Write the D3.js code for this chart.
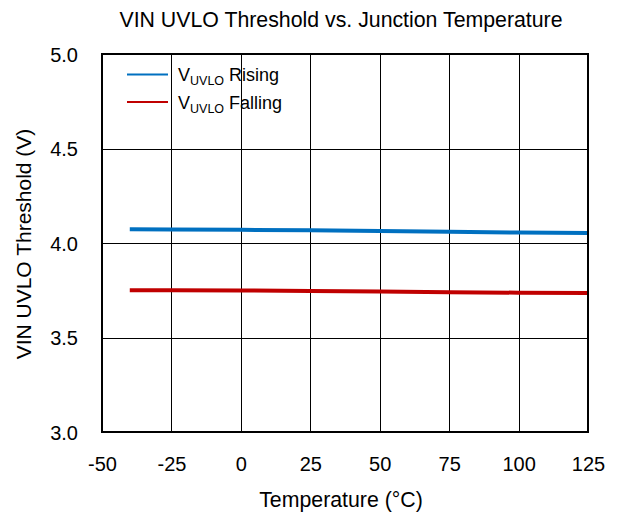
<!DOCTYPE html>
<html><head><meta charset="utf-8">
<script src="https://cdn.jsdelivr.net/npm/d3@7"></script>
<style>body{margin:0;background:#fff}svg{display:block}text{font-family:"Liberation Sans",Arial,sans-serif;fill:#000}</style>
</head><body><svg id="c" width="617" height="516"></svg>
<script>
const temps = [-40, -25, 0, 25, 50, 75, 100, 125];
const rising = [4.073, 4.072, 4.070, 4.067, 4.063, 4.059, 4.055, 4.053];
const falling = [3.750, 3.750, 3.749, 3.746, 3.743, 3.740, 3.737, 3.735];
const xTicks = [-50, -25, 0, 25, 50, 75, 100, 125];
const yTicks = [3.0, 3.5, 4.0, 4.5, 5.0];
const seriesNames = ["Rising", "Falling"];
const colors = ["#0070c0", "#c00000"];

const svg = d3.select("#c");
const L = 102, R = 588, T = 54, B = 432;
const x = d3.scaleLinear().domain([-50, 125]).range([L, R]);
const y = d3.scaleLinear().domain([3.0, 5.0]).range([B, T]);
const FF = '"Liberation Sans",Arial,sans-serif';

// grid
svg.append("g").selectAll("line").data(xTicks.slice(1, -1)).join("line")
  .attr("x1", d => Math.round(x(d)) + 0.5).attr("x2", d => Math.round(x(d)) + 0.5)
  .attr("y1", T).attr("y2", B).attr("stroke", "#000").attr("stroke-width", 1);
svg.append("g").selectAll("line").data(yTicks.slice(1, -1)).join("line")
  .attr("y1", d => Math.round(y(d)) + 0.5).attr("y2", d => Math.round(y(d)) + 0.5)
  .attr("x1", L).attr("x2", R).attr("stroke", "#000").attr("stroke-width", 1);

// series
const line = d3.line().x((d, i) => x(temps[i])).y(d => y(d));
[rising, falling].forEach((s, k) => {
  svg.append("path").datum(s).attr("d", line).attr("fill", "none")
    .attr("stroke", colors[k]).attr("stroke-width", 4);
});

// border
svg.append("rect").attr("x", L).attr("y", T).attr("width", R - L).attr("height", B - T)
  .attr("fill", "none").attr("stroke", "#000").attr("stroke-width", 2);

// axes
const xAxis = d3.axisBottom(x).tickValues(xTicks).tickSize(0).tickPadding(0).tickFormat(d => String(d));
const gx = svg.append("g").attr("transform", `translate(0,${B})`).call(xAxis);
gx.select(".domain").remove();
gx.selectAll("text").attr("dy", null).attr("y", 39).style("font-size", "20px").style("font-family", FF);

const yAxis = d3.axisLeft(y).tickValues(yTicks).tickSize(0).tickPadding(0).tickFormat(d3.format(".1f"));
const gy = svg.append("g").attr("transform", `translate(${L},0)`).call(yAxis);
gy.select(".domain").remove();
gy.selectAll("text").attr("x", -24).attr("dy", "0.35em").style("font-size", "20px").style("font-family", FF);

// titles
svg.append("text").attr("x", 341).attr("y", 27).attr("text-anchor", "middle").style("font-size", "21.3px")
  .text("VIN UVLO Threshold vs. Junction Temperature");
svg.append("text").attr("x", 341).attr("y", 507).attr("text-anchor", "middle").style("font-size", "21.3px")
  .text("Temperature (°C)");
svg.append("text").attr("transform", "translate(31,244) rotate(-90)").attr("text-anchor", "middle").style("font-size", "21px")
  .text("VIN UVLO Threshold (V)");

// legend
const lg = svg.append("g");
seriesNames.forEach((n, i) => {
  const yy = 74.5 + i * 27.5;
  lg.append("line").attr("x1", 127).attr("x2", 168).attr("y1", yy).attr("y2", yy)
    .attr("stroke", colors[i]).attr("stroke-width", 2);
  const t = lg.append("text").attr("x", 178).attr("y", yy + 6.5).style("font-size", "18px");
  t.append("tspan").text("V");
  t.append("tspan").attr("dy", 4).style("font-size", "12.5px").text("UVLO");
  t.append("tspan").attr("dy", -4).text(" " + n);
});
</script></body></html>
